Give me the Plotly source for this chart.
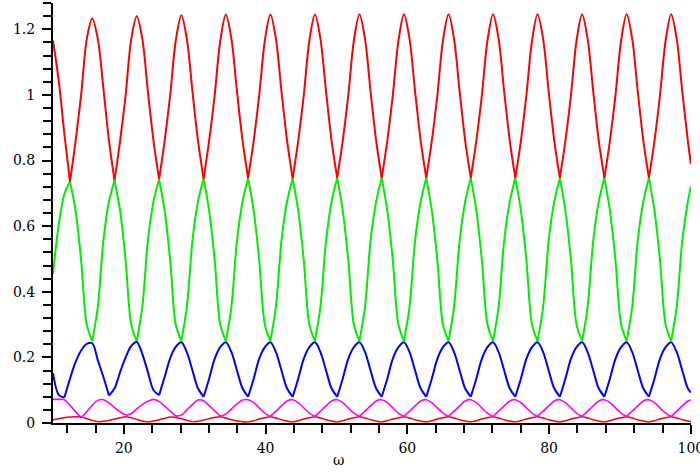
import plotly.graph_objects as go

# omega sample positions (~pi/4 apart, anchored on the red minima)
omega = [
    10.0, 10.83, 11.61,
    12.40, 13.19, 13.97, 14.76, 15.54, 16.33, 17.11, 17.90,
    18.68, 19.47, 20.25, 21.04, 21.82, 22.61, 23.39, 24.18,
    24.97, 25.75, 26.54, 27.32, 28.11, 28.89, 29.68, 30.46,
    31.25, 32.03, 32.82, 33.60, 34.39, 35.18, 35.96, 36.75,
    37.53, 38.32, 39.10, 39.89, 40.67, 41.46, 42.24, 43.03,
    43.82, 44.60, 45.39, 46.17, 46.96, 47.74, 48.53, 49.31,
    50.10, 50.88, 51.67, 52.45, 53.24, 54.03, 54.81, 55.60,
    56.38, 57.17, 57.95, 58.74, 59.52, 60.31, 61.09, 61.88,
    62.67, 63.45, 64.24, 65.02, 65.81, 66.59, 67.38, 68.16,
    68.95, 69.73, 70.52, 71.30, 72.09, 72.88, 73.66, 74.45,
    75.23, 76.02, 76.80, 77.59, 78.37, 79.16, 79.94, 80.73,
    81.52, 82.30, 83.09, 83.87, 84.66, 85.44, 86.23, 87.01,
    87.80, 88.58, 89.37, 90.16, 90.94, 91.73, 92.51, 93.30,
    94.08, 94.87, 95.65, 96.44, 97.22, 98.01, 98.79, 99.58,
    100.0,
]

red_top = [
    1.165, 1.04, 0.88,
    0.735, 0.86, 1.00, 1.17, 1.233, 1.17, 1.02, 0.86,
    0.740, 0.86, 1.00, 1.17, 1.240, 1.17, 1.01, 0.86,
    0.743, 0.86, 1.00, 1.165, 1.243, 1.17, 1.01, 0.86,
    0.745, 0.86, 1.00, 1.165, 1.245, 1.17, 1.01, 0.86,
    0.746, 0.86, 1.00, 1.165, 1.245, 1.17, 1.01, 0.86,
    0.746, 0.86, 1.00, 1.165, 1.245, 1.17, 1.01, 0.86,
    0.747, 0.86, 1.00, 1.165, 1.246, 1.17, 1.01, 0.86,
    0.747, 0.86, 1.00, 1.165, 1.246, 1.17, 1.01, 0.86,
    0.747, 0.86, 1.00, 1.165, 1.246, 1.17, 1.01, 0.86,
    0.747, 0.86, 1.00, 1.165, 1.246, 1.17, 1.01, 0.86,
    0.747, 0.86, 1.00, 1.165, 1.246, 1.17, 1.01, 0.86,
    0.747, 0.86, 1.00, 1.165, 1.246, 1.17, 1.01, 0.86,
    0.747, 0.86, 1.00, 1.165, 1.246, 1.17, 1.01, 0.86,
    0.747, 0.86, 1.00, 1.165, 1.246, 1.17, 1.01, 0.86,
    0.79,
]

green = [
    0.455, 0.607, 0.698,
    0.735, 0.647, 0.495, 0.30, 0.25, 0.355, 0.556, 0.675,
    0.740, 0.647, 0.495, 0.30, 0.25, 0.355, 0.556, 0.675,
    0.743, 0.647, 0.495, 0.30, 0.25, 0.355, 0.556, 0.675,
    0.745, 0.647, 0.495, 0.30, 0.25, 0.355, 0.556, 0.675,
    0.746, 0.647, 0.495, 0.30, 0.25, 0.355, 0.556, 0.675,
    0.746, 0.647, 0.495, 0.30, 0.25, 0.355, 0.556, 0.675,
    0.747, 0.647, 0.495, 0.30, 0.25, 0.355, 0.556, 0.675,
    0.747, 0.647, 0.495, 0.30, 0.25, 0.355, 0.556, 0.675,
    0.747, 0.647, 0.495, 0.30, 0.25, 0.355, 0.556, 0.675,
    0.747, 0.647, 0.495, 0.30, 0.25, 0.355, 0.556, 0.675,
    0.747, 0.647, 0.495, 0.30, 0.25, 0.355, 0.556, 0.675,
    0.747, 0.647, 0.495, 0.30, 0.25, 0.355, 0.556, 0.675,
    0.747, 0.647, 0.495, 0.30, 0.25, 0.355, 0.556, 0.675,
    0.747, 0.647, 0.495, 0.30, 0.25, 0.355, 0.556, 0.675,
    0.72,
]

blue = [
    0.152, 0.085, 0.078,
    0.135, 0.186, 0.221, 0.241, 0.243, 0.191, 0.140, 0.084,
    0.105, 0.155, 0.200, 0.235, 0.247, 0.210, 0.155, 0.100,
    0.085, 0.140, 0.198, 0.232, 0.246, 0.215, 0.160, 0.105,
    0.080, 0.135, 0.196, 0.231, 0.246, 0.216, 0.160, 0.105,
    0.080, 0.135, 0.196, 0.231, 0.246, 0.216, 0.160, 0.105,
    0.080, 0.135, 0.196, 0.231, 0.246, 0.216, 0.160, 0.105,
    0.080, 0.135, 0.196, 0.231, 0.246, 0.216, 0.160, 0.105,
    0.080, 0.135, 0.196, 0.231, 0.246, 0.216, 0.160, 0.105,
    0.080, 0.135, 0.196, 0.231, 0.246, 0.216, 0.160, 0.105,
    0.080, 0.135, 0.196, 0.231, 0.246, 0.216, 0.160, 0.105,
    0.080, 0.135, 0.196, 0.231, 0.246, 0.216, 0.160, 0.105,
    0.080, 0.135, 0.196, 0.231, 0.246, 0.216, 0.160, 0.105,
    0.080, 0.135, 0.196, 0.231, 0.246, 0.216, 0.160, 0.105,
    0.080, 0.135, 0.196, 0.231, 0.246, 0.216, 0.160, 0.105,
    0.093,
]

magenta = [
    0.072, 0.072, 0.071,
    0.054, 0.034, 0.017, 0.034, 0.054, 0.069, 0.071, 0.061,
    0.047, 0.034, 0.024, 0.028, 0.043, 0.056, 0.066, 0.072,
    0.066, 0.052, 0.036, 0.021, 0.024, 0.040, 0.056, 0.070,
    0.068, 0.053, 0.037, 0.021, 0.027, 0.043, 0.058, 0.070,
    0.071, 0.062, 0.046, 0.030, 0.020, 0.036, 0.052, 0.067,
    0.071, 0.062, 0.046, 0.030, 0.020, 0.036, 0.052, 0.067,
    0.071, 0.062, 0.046, 0.030, 0.020, 0.036, 0.052, 0.067,
    0.071, 0.062, 0.046, 0.030, 0.020, 0.036, 0.052, 0.067,
    0.071, 0.062, 0.046, 0.030, 0.020, 0.036, 0.052, 0.067,
    0.071, 0.062, 0.046, 0.030, 0.020, 0.036, 0.052, 0.067,
    0.071, 0.062, 0.046, 0.030, 0.020, 0.036, 0.052, 0.067,
    0.071, 0.062, 0.046, 0.030, 0.020, 0.036, 0.052, 0.067,
    0.071, 0.062, 0.046, 0.030, 0.020, 0.036, 0.052, 0.067,
    0.071, 0.062, 0.046, 0.030, 0.020, 0.036, 0.052, 0.067,
    0.070,
]

red_low = [
    0.010, 0.013, 0.016,
    0.018, 0.019, 0.018, 0.013, 0.008, 0.004, 0.005, 0.008,
    0.012, 0.016, 0.019, 0.016, 0.011, 0.006, 0.003, 0.006,
    0.010, 0.014, 0.018, 0.017, 0.013, 0.008, 0.004, 0.005,
    0.009, 0.013, 0.017, 0.019, 0.015, 0.010, 0.006, 0.004,
    0.003, 0.007, 0.012, 0.016, 0.019, 0.015, 0.010, 0.006,
    0.003, 0.007, 0.012, 0.016, 0.019, 0.015, 0.010, 0.006,
    0.003, 0.007, 0.012, 0.016, 0.019, 0.015, 0.010, 0.006,
    0.003, 0.007, 0.012, 0.016, 0.019, 0.015, 0.010, 0.006,
    0.003, 0.007, 0.012, 0.016, 0.019, 0.015, 0.010, 0.006,
    0.003, 0.007, 0.012, 0.016, 0.019, 0.015, 0.010, 0.006,
    0.003, 0.007, 0.012, 0.016, 0.019, 0.015, 0.010, 0.006,
    0.003, 0.007, 0.012, 0.016, 0.019, 0.015, 0.010, 0.006,
    0.003, 0.007, 0.012, 0.016, 0.019, 0.015, 0.010, 0.006,
    0.003, 0.007, 0.012, 0.016, 0.019, 0.015, 0.010, 0.006,
    0.005,
]


def split_at_cusps(xs, ys, at_min=True, at_max=False):
    """Break the polyline at its sharp extrema so the spline keeps them pointed."""
    px, py = [], []
    n = len(ys)
    for i in range(n):
        px.append(xs[i])
        py.append(ys[i])
        if 0 < i < n - 1:
            is_min = ys[i] < ys[i - 1] and ys[i] <= ys[i + 1]
            is_max = ys[i] > ys[i - 1] and ys[i] >= ys[i + 1]
            if (at_min and is_min) or (at_max and is_max):
                px += [None, xs[i]]
                py += [None, ys[i]]
    return px, py


series = [
    (red_low, "#ff0000", 1.5, True, False),
    (magenta, "#ff00ff", 1.6, True, False),
    (blue, "#0000ff", 2.0, True, False),
    (green, "#00ee00", 2.0, True, True),
    (red_top, "#ff0000", 2.0, True, False),
]

fig = go.Figure()
for ys, color, width, mn, mx in series:
    px, py = split_at_cusps(omega, ys, mn, mx)
    fig.add_trace(go.Scatter(
        x=px, y=py, mode="lines", connectgaps=False,
        line=dict(color=color, width=width, shape="spline", smoothing=0.9),
        showlegend=False, hoverinfo="skip",
    ))

font = dict(family="DejaVu Serif", size=14, color="#000000")

fig.update_layout(
    width=700, height=473,
    margin=dict(l=53, r=9, t=3, b=50, autoexpand=False),
    paper_bgcolor="white", plot_bgcolor="white",
    font=font,
    showlegend=False,
    xaxis=dict(
        range=[10, 100.02], showgrid=False, zeroline=False, automargin=False,
        showline=True, linecolor="#000000", linewidth=2,
        ticks="outside", ticklen=9, tickwidth=2, tickcolor="#000000",
        tickmode="linear", tick0=0, dtick=20, tickfont=font, ticklabelstandoff=2,
        ticklabeloverflow="allow",
        minor=dict(ticks="outside", ticklen=8, tickwidth=2, tickcolor="#000000",
                   tick0=0, dtick=4, showgrid=False),
    ),
    yaxis=dict(
        range=[0, 1.28], showgrid=False, zeroline=False, automargin=False,
        showline=True, linecolor="#000000", linewidth=2,
        ticks="outside", ticklen=9, tickwidth=2, tickcolor="#000000",
        tickmode="linear", tick0=0, dtick=0.2, tickfont=font, ticklabelstandoff=4,
        ticklabeloverflow="allow",
        minor=dict(ticks="outside", ticklen=8, tickwidth=2, tickcolor="#000000",
                   tick0=0, dtick=0.04, showgrid=False),
    ),
    annotations=[dict(
        text="ω", xref="paper", yref="paper", x=0.448, y=-0.088,
        xanchor="center", yanchor="middle", showarrow=False, font=font,
    )],
)

fig.write_html("out.html")
